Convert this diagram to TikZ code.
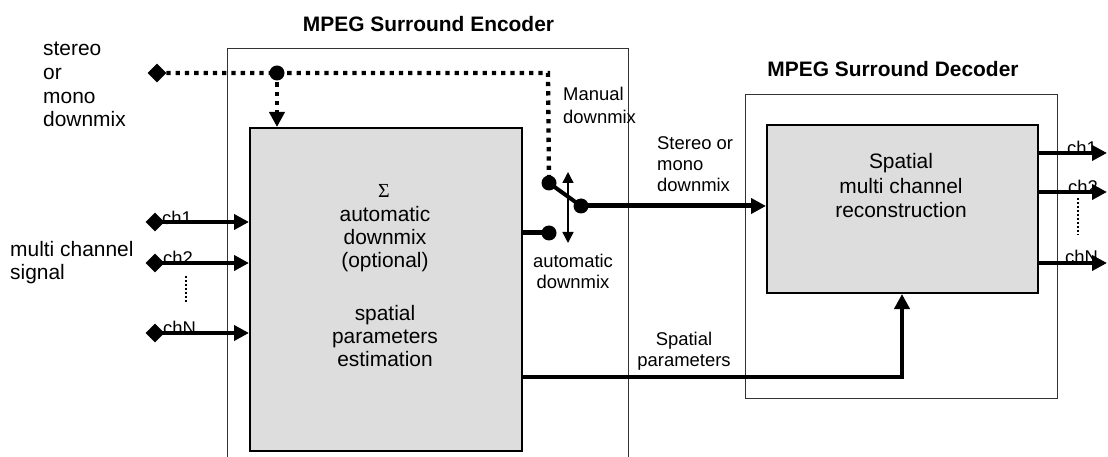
\documentclass[tikz,border=0pt]{standalone}
\usepackage{fontspec}
\setmainfont{Liberation Sans}
\newfontfamily\sigmafont{Liberation Serif}
\usetikzlibrary{arrows.meta,shapes.geometric}
\definecolor{boxgray}{HTML}{DDDDDD}
\tikzset{
  bigtxt/.style={font=\fontsize{21}{23.5}\selectfont, inner sep=0pt},
  smalltxt/.style={font=\fontsize{18.5}{21.5}\selectfont, inner sep=0pt},
  titletxt/.style={font=\bfseries\fontsize{21}{24}\selectfont, inner sep=0pt},
  chtxt/.style={font=\fontsize{18.5}{20}\selectfont, inner sep=0pt, anchor=base west},
  innerbox/.style={draw, line width=2bp, fill=boxgray, inner sep=0pt, anchor=north west},
  outerline/.style={draw=black!80, line width=1bp},
  dotnode/.style={circle, fill=black, inner sep=0pt, minimum size=15bp},
  dianode/.style={diamond, fill=black, inner sep=0pt, minimum width=19bp, minimum height=19bp},
  dotline/.style={line width=4.3bp, dash pattern=on 4.3bp off 5bp},
  ellipsisline/.style={line width=2bp, dash pattern=on 2bp off 2bp},
  thickline/.style={line width=5bp},
  sigline/.style={line width=4bp},
  bigarrow/.style={-{Triangle[length=15bp,width=15bp]}},
  smallarrows/.style={{Triangle[length=11bp,width=11bp]}-{Triangle[length=11bp,width=11bp]}},
}
\begin{document}
\begin{tikzpicture}[x=1bp,y=-1bp]
\useasboundingbox (0,0) rectangle (1108,457);

% outer frames
\draw[outerline] (227,457) -- (227,49) -- (628,49) -- (628,457);
\node[draw=black!80, line width=1bp, minimum width=312bp, minimum height=304bp,
      inner sep=0pt, anchor=north west] (decout) at (745,94) {};

% titles
\node[titletxt, anchor=base] (enctitle) at (428.5,32) {MPEG Surround Encoder};
\node[titletxt, anchor=base] (dectitle) at (893,77) {MPEG Surround Decoder};

% processing blocks
\node[innerbox, minimum width=272bp, minimum height=323bp] (enc) at (249,127) {};
\node[innerbox, minimum width=271bp, minimum height=168bp] (dec) at (766,124) {};

% encoder block text (anchors sit on the last baseline)
\node[font=\sigmafont\fontsize{20}{20}\selectfont, inner sep=0pt, anchor=base] (sig) at (384,198) {Σ};
\node[bigtxt, align=center, anchor=base] (encA) at (385,268) {automatic\\downmix\\(optional)};
\node[bigtxt, align=center, anchor=base] (encB) at (385,367) {spatial\\parameters\\estimation};

% decoder block text
\node[font=\fontsize{21}{25}\selectfont, inner sep=0pt, align=center, anchor=base] (decT) at (901,218)
  {Spatial\\multi channel\\reconstruction};

% left-hand labels
\node[font=\fontsize{21}{24}\selectfont, inner sep=0pt, align=left, anchor=base west] (dmxlab) at (43,127)
  {stereo\\or\\mono\\downmix};
\node[bigtxt, align=left, anchor=base west] (mclab) at (10,280) {multi channel\\signal};

% manual downmix path (dotted)
\node[dianode] (sdm) at (157,73) {};
\node[dotnode] (jd) at (277,73) {};
\node[dotnode] (swT) at (549,183) {};
\coordinate (corner) at (548,73);
\draw[dotline] (sdm.center) -- (jd.center) -- (corner) -- (swT.center);
\draw[dotline, bigarrow] (jd.center) -- (jd.center |- enc.north);
\node[font=\fontsize{18.5}{24}\selectfont, inner sep=0pt, align=left, anchor=base west] (manlab) at (563,124)
  {Manual\\downmix};

% switch
\node[dotnode] (swR) at (581,206) {};
\node[dotnode] (swA) at (549,233) {};
\coordinate (dtop) at (568,172);
\coordinate (dbot) at (568,243);
\draw[line width=4bp] (swT.center) -- (swR.center);
\draw[line width=1.5bp, smallarrows] (dtop) -- (dbot);
\draw[thickline] (swA.center -| enc.east) -- (swA.center);
\node[smalltxt, align=center, anchor=base] (autolab) at (573,289) {automatic\\downmix};

% downmix to decoder
\draw[thickline, bigarrow] (swR.center) -- (swR.center -| dec.west);
\node[smalltxt, align=left, anchor=base west] (dmxout) at (657,192) {Stereo or\\mono\\downmix};

% spatial parameters
\coordinate (spl) at (521,377);
\coordinate (spc) at (902,377);
\draw[sigline, bigarrow] (spl) -- (spc) -- (spc |- dec.south);
\node[font=\fontsize{18.5}{22}\selectfont, inner sep=0pt, align=center, anchor=base] (splab) at (684,367)
  {Spatial\\parameters};

% input channels
\node[dianode] (in1) at (155,222) {};
\node[dianode] (in2) at (155,263) {};
\node[dianode] (inN) at (155,333) {};
\draw[sigline, bigarrow] (in1.center) -- (in1.center -| enc.west);
\draw[sigline, bigarrow] (in2.center) -- (in2.center -| enc.west);
\draw[sigline, bigarrow] (inN.center) -- (inN.center -| enc.west);
\node[chtxt] (lin1) at (162,225) {ch1};
\node[chtxt] (lin2) at (163,265) {ch2};
\node[chtxt] (linN) at (163,335) {chN};
\coordinate (ie1) at (186,276);
\coordinate (ie2) at (186,303);
\draw[ellipsisline] (ie1) -- (ie2);

% output channels
\coordinate (out1) at (1107,153);
\coordinate (out2) at (1107,192);
\coordinate (outN) at (1107,263);
\draw[sigline, bigarrow] (out1 -| dec.east) -- (out1);
\draw[sigline, bigarrow] (out2 -| dec.east) -- (out2);
\draw[sigline, bigarrow] (outN -| dec.east) -- (outN);
\node[chtxt] (lout1) at (1067,155) {ch1};
\node[chtxt] (lout2) at (1068,194) {ch2};
\node[chtxt] (loutN) at (1065,264) {chN};
\coordinate (oe1) at (1078,198);
\coordinate (oe2) at (1078,235);
\draw[ellipsisline] (oe1) -- (oe2);
\end{tikzpicture}
\end{document}
